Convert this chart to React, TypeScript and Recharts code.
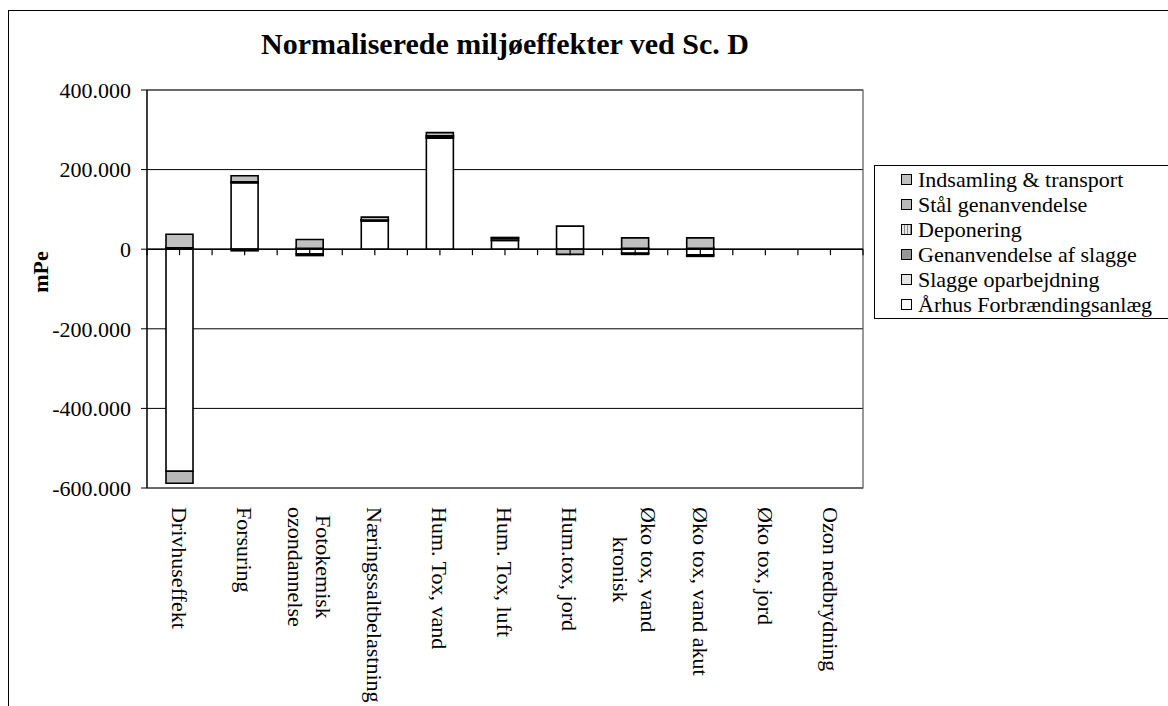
import React from "react";
import {
  BarChart,
  Bar,
  XAxis,
  YAxis,
  CartesianGrid,
  ReferenceLine,
  ReferenceArea,
  Legend,
} from "recharts";

const categories = [
  "Drivhuseffekt",
  "Forsuring",
  "Fotokemisk\nozondannelse",
  "Næringssaltbelastning",
  "Hum. Tox, vand",
  "Hum. Tox, luft",
  "Hum.tox, jord",
  "Øko tox, vand\nkronisk",
  "Øko tox, vand akut",
  "Øko tox, jord",
  "Ozon nedbrydning",
];

// mPe per kategori, en liste pr. led i kæden
const aarhus = [-558000, 167000, -12000, 71000, 279000, 22000, 58000, -10000, -14000, 0, 0];
const slaggeOparbejdning = [2000, 1000, 1000, 1000, 1000, 1000, 0, 1000, 1000, 0, 0];
const genanvSlagge = [1000, 1000, 1000, 1000, 4000, 5000, 0, 1000, 1000, 0, 0];
const deponering = [500, 500, 500, 500, 1000, 500, 0, 500, 500, 0, 0];
const staalGenanv = [-30000, -4000, -4000, 0, 0, 0, -13000, -3000, -4000, 0, 0];
const indsamling = [34000, 15000, 22000, 7000, 8000, 1000, 0, 26000, 26000, 0, 0];

const yTicks = [-600000, -400000, -200000, 0, 200000, 400000];

const data = categories.map((name, i) => ({
  name,
  aarhus: aarhus[i],
  slaggeOparbejdning: slaggeOparbejdning[i],
  genanvSlagge: genanvSlagge[i],
  deponering: deponering[i],
  staalGenanv: staalGenanv[i],
  indsamling: indsamling[i],
}));

// stak-rækkefølge nedefra; legenden viser den omvendt
const series = [
  { key: "aarhus", name: "Århus Forbrændingsanlæg", fill: "#FFFFFF" },
  { key: "slaggeOparbejdning", name: "Slagge oparbejdning", fill: "#E4E4E4" },
  { key: "genanvSlagge", name: "Genanvendelse af slagge", fill: "#969696" },
  { key: "deponering", name: "Deponering", fill: "url(#depStripes)" },
  { key: "staalGenanv", name: "Stål genanvendelse", fill: "#B8B8B8" },
  { key: "indsamling", name: "Indsamling & transport", fill: "#C0C0C0" },
];

const serif = '"Liberation Serif", "Times New Roman", serif';

const fmt = (v: number) =>
  v === 0 ? "0" : String(v).replace(/\B(?=(\d{3})+(?!\d))/g, ".");

let ctx: CanvasRenderingContext2D | null = null;
const textWidth = (s: string) => {
  if (!ctx) ctx = document.createElement("canvas").getContext("2d");
  if (!ctx) return s.length * 10;
  ctx.font = `22px ${serif}`;
  return ctx.measureText(s).width;
};

const CategoryTick = (props: any) => {
  const { x, y, payload } = props;
  const lines = String(payload.value).split("\n");
  const top = y + 19;
  if (lines.length === 1) {
    return (
      <text
        x={x}
        y={top}
        dy="0.35em"
        transform={`rotate(90 ${x} ${top})`}
        fontFamily={serif}
        fontSize={22}
        fill="#000"
      >
        {lines[0]}
      </text>
    );
  }
  const w = Math.max(...lines.map(textWidth));
  const cy = top + w / 2;
  const lh = 28;
  return (
    <text
      transform={`rotate(90 ${x} ${cy})`}
      textAnchor="middle"
      fontFamily={serif}
      fontSize={22}
      fill="#000"
    >
      {lines.map((l, k) => (
        <tspan key={k} x={x} y={cy + (k - (lines.length - 1) / 2) * lh} dy="0.35em">
          {l}
        </tspan>
      ))}
    </text>
  );
};

// nul-linjen med små streger ved hver halve kategori
const ZeroAxis = (props: any) => {
  const { x1, y1, x2 } = props;
  const steps = categories.length * 2;
  const marks = Array.from({ length: steps + 1 }, (_, k) => x1 + ((x2 - x1) * k) / steps);
  return (
    <g>
      <line x1={x1} y1={y1} x2={x2} y2={y1} stroke="#000" strokeWidth={1.5} />
      {marks.map((tx, k) => (
        <line key={k} x1={tx} x2={tx} y1={y1} y2={y1 + 6} stroke="#000" strokeWidth={1.2} />
      ))}
    </g>
  );
};

const MpeLabel = (props: any) => {
  const vb = props.viewBox || {};
  const cy = (vb.y || 0) + (vb.height || 0) / 2 - 17;
  const cx = 31;
  return (
    <text
      x={cx}
      y={cy}
      transform={`rotate(-90 ${cx} ${cy})`}
      textAnchor="middle"
      dy="0.35em"
      fontFamily={serif}
      fontWeight="bold"
      fontSize={22}
      fill="#000"
    >
      mPe
    </text>
  );
};

const LegendBox = () => (
  <div
    style={{
      border: "1px solid #000",
      borderRight: "none",
      background: "#fff",
      padding: "1px 0",
      fontFamily: serif,
      fontSize: 22,
      color: "#000",
    }}
  >
    {[...series].reverse().map((s) => (
      <div
        key={s.key}
        style={{ height: 25, display: "flex", alignItems: "center", paddingLeft: 26 }}
      >
        <svg width={11} height={11} style={{ marginRight: 6, flex: "none" }}>
          <rect x={0.5} y={0.5} width={10} height={10} fill={s.fill} stroke="#000" />
        </svg>
        <span style={{ whiteSpace: "nowrap", lineHeight: "25px" }}>{s.name}</span>
      </div>
    ))}
  </div>
);

export default function App() {
  return (
    <div
      style={{
        position: "absolute",
        left: 8,
        top: 10,
        width: 1160,
        height: 696,
        borderLeft: "1px solid #000",
        borderTop: "1px solid #000",
        boxSizing: "border-box",
        overflow: "hidden",
        background: "#fff",
        fontFamily: serif,
      }}
    >
      <svg width={0} height={0} style={{ position: "absolute" }}>
        <defs>
          <pattern id="depStripes" width={3} height={3} patternUnits="userSpaceOnUse">
            <rect width={3} height={3} fill="#E8E8E8" />
            <rect width={1} height={3} fill="#8C8C8C" />
          </pattern>
        </defs>
      </svg>
      <div
        style={{
          position: "absolute",
          left: 0,
          top: 18,
          width: 992,
          textAlign: "center",
          fontFamily: serif,
          fontWeight: "bold",
          fontSize: 30,
          lineHeight: "30px",
          color: "#000",
        }}
      >
        Normaliserede miljøeffekter ved Sc. D
      </div>
      <BarChart
        width={1159}
        height={695}
        data={data}
        stackOffset="sign"
        barSize={27}
        margin={{ top: 79, right: 305, bottom: 18, left: 48 }}
      >
        <ReferenceArea y1={-600000} y2={400000} fill="none" stroke="#555" strokeWidth={1.2} />
        <CartesianGrid vertical={false} stroke="#000" strokeWidth={1} />
        <XAxis
          dataKey="name"
          interval={0}
          height={200}
          tickLine={false}
          axisLine={false}
          tickSize={0}
          tickMargin={0}
          tick={<CategoryTick />}
        />
        <YAxis
          width={90}
          domain={[-600000, 400000]}
          ticks={yTicks}
          allowDataOverflow
          tickFormatter={fmt}
          tickSize={6}
          tickMargin={10}
          tickLine={{ stroke: "#000" }}
          axisLine={{ stroke: "#000", strokeWidth: 1.2 }}
          tick={{ fill: "#000", fontFamily: serif, fontSize: 22 }}
          label={<MpeLabel />}
        />
        {series.map((s) => (
          <Bar
            key={s.key}
            dataKey={s.key}
            name={s.name}
            stackId="a"
            fill={s.fill}
            stroke="#000"
            strokeWidth={1.6}
            isAnimationActive={false}
          />
        ))}
        <ReferenceLine y={0} shape={ZeroAxis} />
        <Legend
          layout="vertical"
          align="center"
          verticalAlign="middle"
          content={<LegendBox />}
          wrapperStyle={{ left: 865, top: 154, width: 300, bottom: "auto", right: "auto" }}
        />
      </BarChart>
    </div>
  );
}
